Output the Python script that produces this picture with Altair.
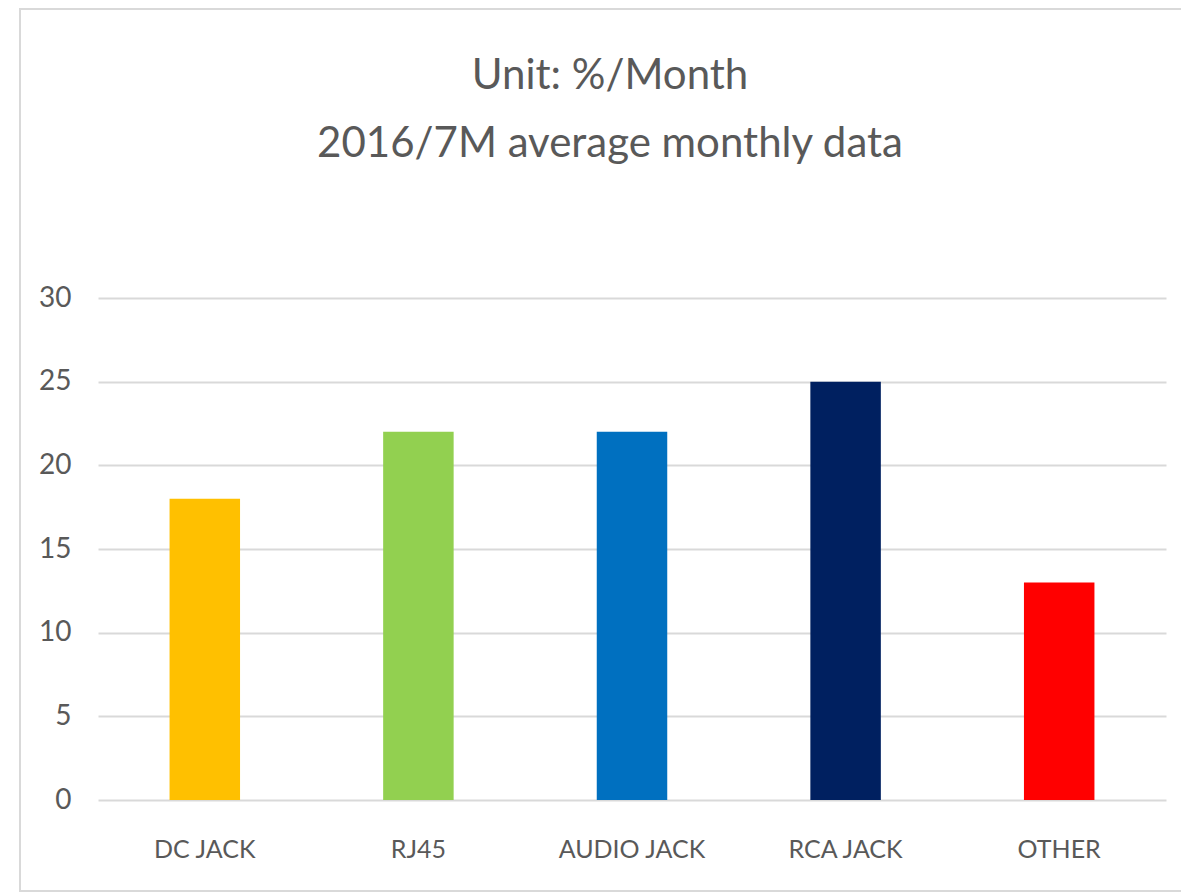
import altair as alt
import pandas as pd

categories = ["DC JACK", "RJ45", "AUDIO JACK", "RCA JACK", "OTHER"]
values = [18, 22, 22, 25, 13]
colors = ["#FFC000", "#92D050", "#0070C0", "#002060", "#FF0000"]
title_lines = ["Unit: %/Month", "2016/7M average monthly data"]

df = pd.DataFrame({"category": categories, "value": values})

bars = alt.Chart(df).mark_bar().encode(
    x=alt.X("category:N", sort=categories,
            scale=alt.Scale(paddingInner=0.67, paddingOuter=0.335),
            axis=alt.Axis(title=None, labelAngle=0, ticks=False, domain=False,
                          labelFont="Lato", labelFontSize=25,
                          labelColor="#595959", labelPadding=37, grid=False)),
    y=alt.Y("value:Q", scale=alt.Scale(domain=[0, 30]),
            axis=alt.Axis(title=None, values=[0, 5, 10, 15, 20, 25, 30], ticks=False,
                          domain=False, labelFont="Lato", labelFontSize=28,
                          labelColor="#595959", labelPadding=27,
                          gridColor="#d9d9d9", gridWidth=2)),
    color=alt.Color("category:N", sort=categories,
                    scale=alt.Scale(domain=categories, range=colors), legend=None),
)

border = alt.Chart(alt.Data(values=[{"a": 1}])).mark_rect(
    fill=None, stroke="#d9d9d9", strokeWidth=2
).encode(
    x=alt.value(-78), x2=alt.value(1100), y=alt.value(-289), y2=alt.value(593)
)

chart = alt.layer(border, bars).properties(
    width=1068, height=502,
    padding={"left": 90, "top": 290, "right": 15, "bottom": 95},
    autosize=alt.AutoSizeParams(type="none"),
    title=alt.TitleParams(text=title_lines, font="Lato", fontSize=42, fontWeight="normal",
                          color="#595959", anchor="middle", frame="group", dx=-22,
                          lineHeight=68, offset=-158),
).configure_view(stroke=None)

chart.save("out.html", embed_options={"renderer": "svg", "actions": False})
